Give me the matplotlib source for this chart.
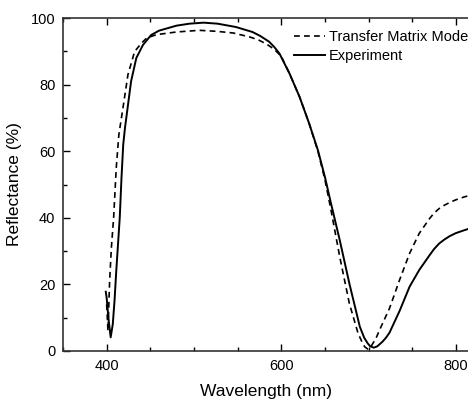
import numpy as np
import matplotlib
matplotlib.use("Agg")
import matplotlib.pyplot as plt
from matplotlib.ticker import MultipleLocator

plt.rcParams['font.family'] = ['Liberation Sans', 'DejaVu Sans']

# measured reflectance (solid)
exp_wl = [399, 400, 402, 404.6, 407, 409, 411, 413, 415, 417, 419, 421, 423,
          428, 434, 441.6, 451, 460, 468, 480, 495, 511, 527, 548, 567, 576,
          586, 592, 598, 609.5, 621, 632, 642, 650, 657, 667, 678, 690, 695,
          699, 702, 706, 710, 716, 720, 724, 735.5, 747, 758, 770, 775, 781,
          787, 793, 800, 810, 816]
exp_r = [17.8, 16, 10, 4.1, 8, 15, 24, 32, 40, 52, 62, 67, 71,
         81, 88, 91.9, 94.9, 96.2, 96.8, 97.7, 98.3, 98.6, 98.3, 97.3, 95.8, 94.6,
         92.9, 91.3, 89.3, 83.3, 76.3, 68.3, 60.3, 52.3, 44.3, 33.3, 20.3, 7.3,
         4.0, 2.3, 1.4, 1.0, 1.4, 2.8, 4.0, 5.5, 12, 19.3, 24.3, 28.8, 30.6, 32.3,
         33.5, 34.5, 35.4, 36.3, 36.8]

# transfer matrix model (dashed)
tmm_wl = [400, 401.5, 403.4, 405.4, 408, 411, 414, 418.7, 424.4, 432, 439.7,
          446, 457, 480, 506, 526, 545, 564, 574, 583, 592, 600, 609.5, 621,
          632, 642, 650, 657, 667, 678, 688, 692, 695.4, 699, 702, 705, 708.5,
          712.6, 724, 735.5, 747, 758, 770, 775, 781, 787, 793, 800, 810, 816]
tmm_r = [14, 6, 21, 31, 40, 55, 65, 73, 83, 89.9, 92.4,
         94, 95, 95.8, 96.3, 96, 95.5, 94.3, 93.4, 92.2, 90.6, 88.5, 83.3, 76.3,
         68.3, 60, 51.5, 42.3, 28.3, 14.3, 5.3, 3.0, 1.3, 0.6, 1.0, 2.3, 3.8,
         6.3, 12.8, 21.3, 29.3, 35.3, 39.8, 41.4, 42.8, 43.8, 44.6, 45.4, 46.3,
         46.7]

fig = plt.figure(figsize=(4.68, 4.0), dpi=100)
ax = fig.add_axes([63 / 468, 49 / 400, 1 - 63 / 468 + 0.002, 333 / 400])

ax.plot(tmm_wl, tmm_r, color='black', lw=1.2, ls=(0, (3.5, 2.5)),
        label='Transfer Matrix Model')
ax.plot(exp_wl, exp_r, color='black', lw=1.4, label='Experiment')

ax.set_xlim(350, 815)
ax.set_ylim(0, 100)
ax.xaxis.set_major_locator(MultipleLocator(200))
ax.xaxis.set_minor_locator(MultipleLocator(50))
ax.yaxis.set_major_locator(MultipleLocator(20))
ax.yaxis.set_minor_locator(MultipleLocator(10))
ax.tick_params(which='both', direction='in', top=True, right=False,
               labelsize=10.5, width=1)
ax.tick_params(which='major', length=5)
ax.tick_params(which='minor', length=3)
ax.tick_params(axis='x', pad=6)
ax.tick_params(axis='y', pad=5.5)
ax.spines['right'].set_visible(False)
for s in ['left', 'bottom', 'top']:
    ax.spines[s].set_linewidth(1.2)
    ax.spines[s].set_color('#333333')

ax.set_xlabel('Wavelength (nm)', fontsize=12.5, labelpad=8)
ax.set_ylabel('Reflectance (%)', fontsize=12.5, labelpad=6)

# the reference figure is cropped on the right, cutting the legend text
ax.legend(loc='upper left', bbox_to_anchor=(294 / 468, 1 - 30 / 400),
          bbox_transform=fig.transFigure, frameon=False, fontsize=10.5,
          handlelength=2.1, handletextpad=0.3, labelspacing=0.35,
          borderaxespad=0, borderpad=0)

fig.savefig('out.png', dpi=100)
